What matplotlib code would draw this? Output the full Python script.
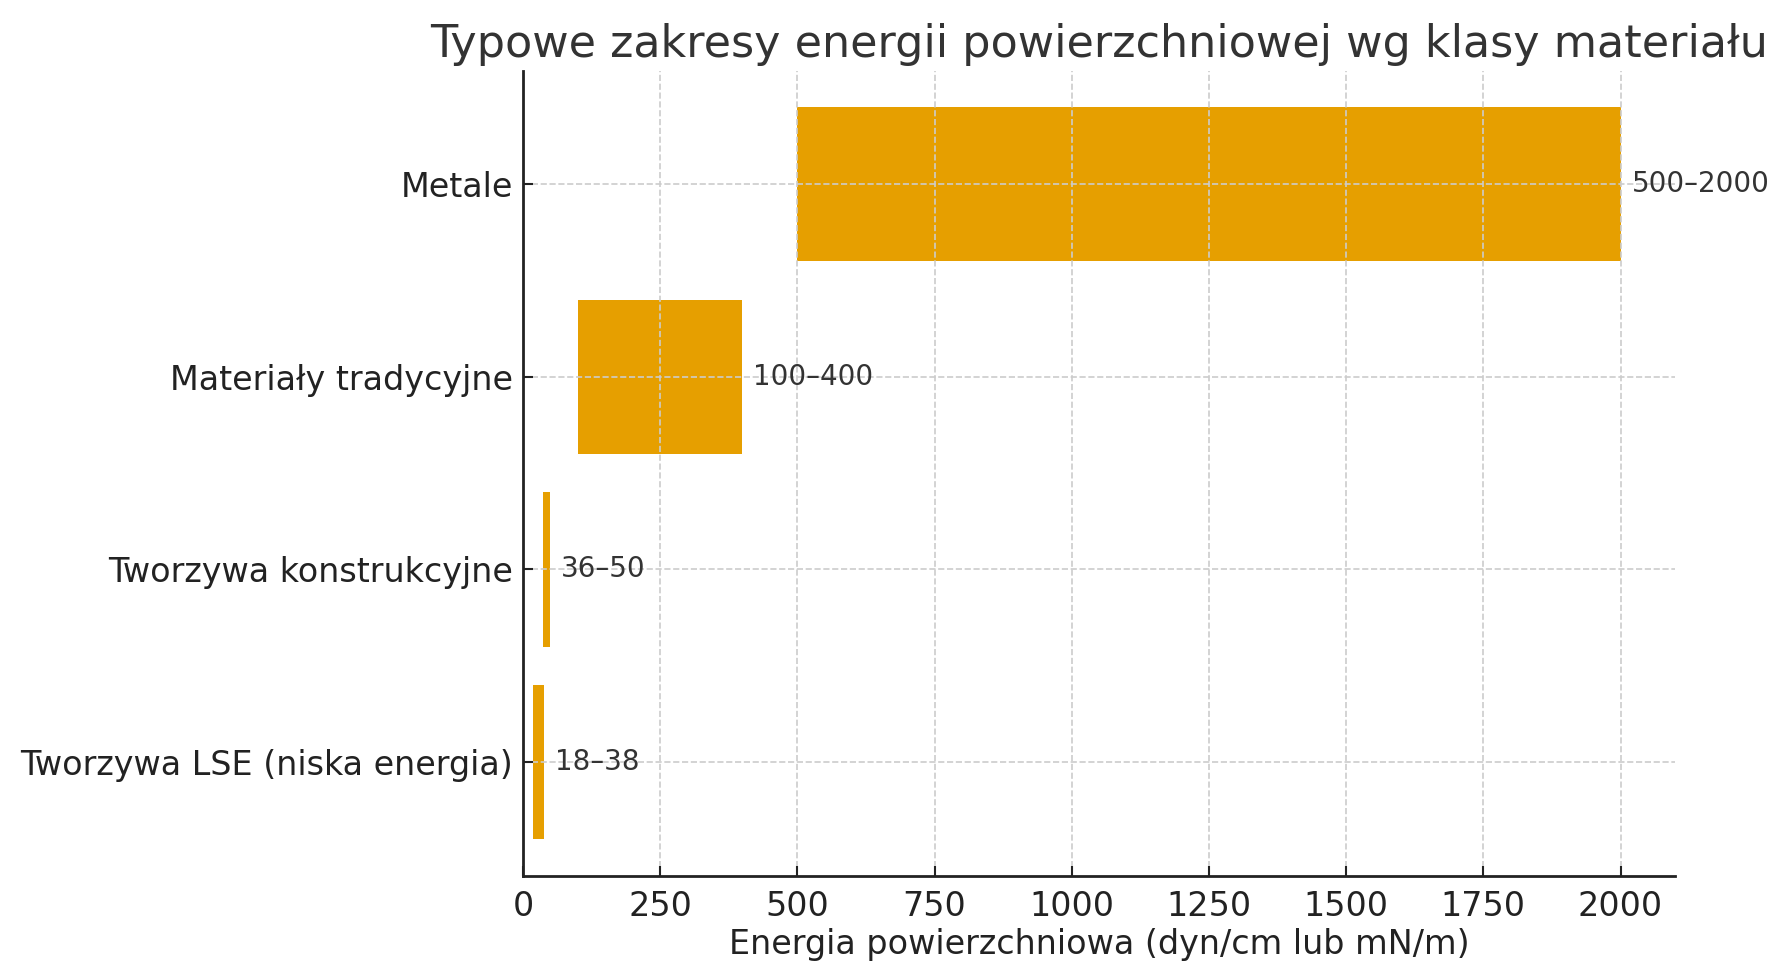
import matplotlib
matplotlib.use("Agg")
import matplotlib.pyplot as plt

categories = ["Tworzywa LSE (niska energia)", "Tworzywa konstrukcyjne",
              "Materiały tradycyjne", "Metale"]
low = [18, 36, 100, 500]
high = [38, 50, 400, 2000]
labels = ["18–38", "36–50", "100–400", "500–2000"]
xticks = [0, 250, 500, 750, 1000, 1250, 1500, 1750, 2000]

fig = plt.figure(figsize=(17.89, 9.80), dpi=100)
ax = fig.add_axes([0.2923, 0.1064, 0.9365 - 0.2923, 0.928 - 0.1064])

widths = [h - l for l, h in zip(low, high)]
ypos = list(range(len(categories)))
ax.barh(ypos, widths, left=low, height=0.8, color="#E69F00")
for y, h, t in zip(ypos, high, labels):
    ax.text(h + 20, y, t, va="center", ha="left", fontsize=20, color="#333333")

ax.set_yticks(ypos)
ax.set_yticklabels(categories)
ax.set_xticks(xticks)
ax.set_xlim(0, 2100)
ax.set_ylim(-0.59, 3.59)
ax.tick_params(axis="both", labelsize=24, colors="#222222", length=7, width=1.5,
               direction="in")
ax.tick_params(axis="y", pad=7)
ax.tick_params(axis="x", pad=10)
ax.set_xlabel("Energia powierzchniowa (dyn/cm lub mN/m)", fontsize=24, color="#222222")
ax.set_title("Typowe zakresy energii powierzchniowej wg klasy materiału",
             fontsize=32, color="#333333", pad=10)
ax.set_axisbelow(False)
ax.grid(True, linestyle="--", color="#cccccc", linewidth=1.2)
for s in ["top", "right"]:
    ax.spines[s].set_visible(False)
for s in ["left", "bottom"]:
    ax.spines[s].set_linewidth(2)
    ax.spines[s].set_color("#222222")
    ax.spines[s].set_zorder(5)

fig.savefig("out.png", dpi=100)
